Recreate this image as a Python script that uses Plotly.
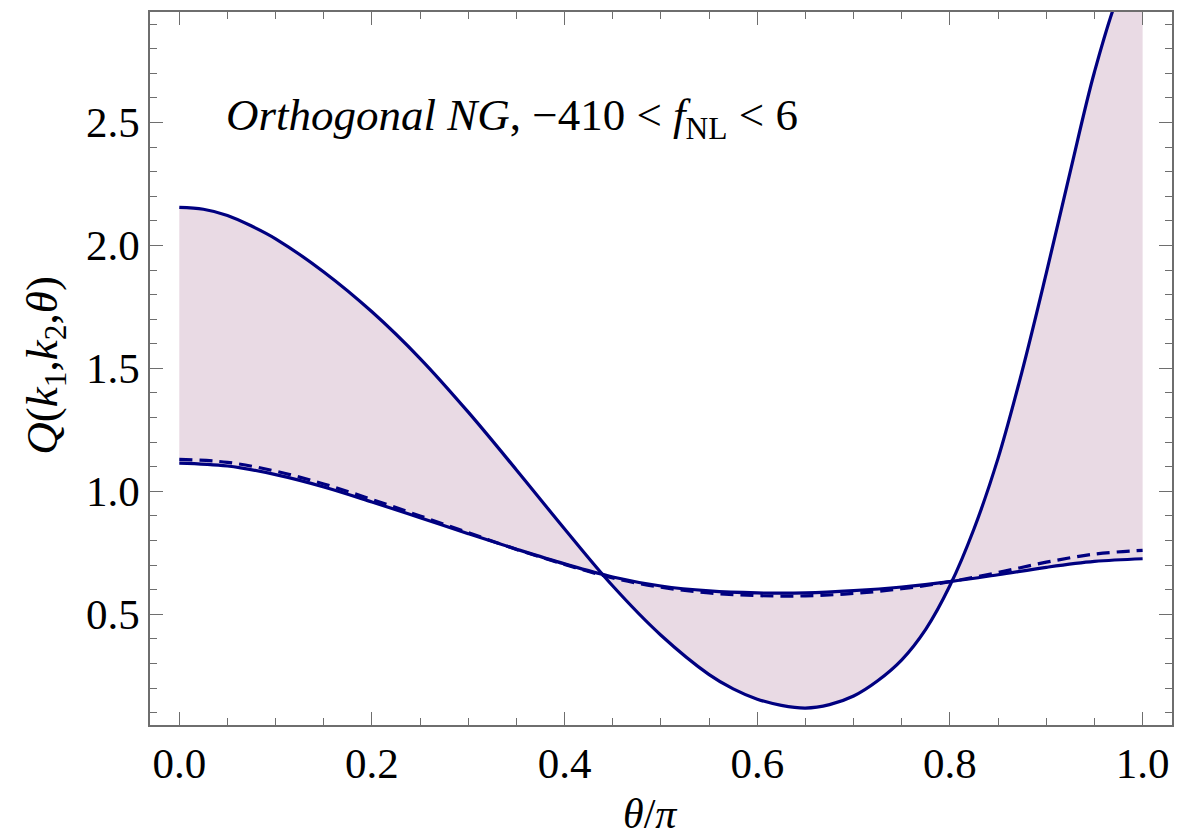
import plotly.graph_objects as go

# theta/pi sample points
theta = [0.00, 0.05, 0.10, 0.15, 0.20, 0.25, 0.30, 0.35, 0.40, 0.45, 0.50,
         0.55, 0.60, 0.65, 0.70, 0.75, 0.80, 0.85, 0.90, 0.95, 1.00]
theta_upper = [0.00, 0.025, 0.05, 0.075, 0.10, 0.15, 0.20, 0.25, 0.30, 0.35, 0.40, 0.45, 0.50,
               0.55, 0.575, 0.60, 0.625, 0.65, 0.675, 0.70, 0.725, 0.75, 0.775, 0.80,
               0.825, 0.85, 0.875, 0.90, 0.925, 0.95, 0.975, 1.00]

# upper boundary (f_NL = -410)
q_upper = [2.155, 2.147, 2.122, 2.079, 2.027, 1.892, 1.730, 1.540, 1.322, 1.087, 0.847, 0.615, 0.415,
           0.255, 0.197, 0.155, 0.130, 0.119, 0.133, 0.168, 0.230, 0.315, 0.440, 0.617,
           0.848, 1.135, 1.490, 1.887, 2.302, 2.705, 3.020, 3.220]
# lower boundary (f_NL = 6)
q_lower = [1.115, 1.103, 1.068, 1.018, 0.957, 0.893, 0.828, 0.765, 0.705, 0.652, 0.615,
           0.595, 0.587, 0.587, 0.596, 0.611, 0.633, 0.661, 0.691, 0.715, 0.726]
# dashed (f_NL = 0)
q_zero = [1.130, 1.118, 1.082, 1.030, 0.967, 0.900, 0.832, 0.764, 0.703, 0.648, 0.610,
          0.587, 0.576, 0.575, 0.585, 0.604, 0.633, 0.670, 0.712, 0.745, 0.760]

x_ticks = [0.0, 0.2, 0.4, 0.6, 0.8, 1.0]
y_ticks = [0.5, 1.0, 1.5, 2.0, 2.5]

NAVY = "#000080"
FILL = "rgb(233,218,228)"
FRAME = "#6e6e6e"
SERIF = "Liberation Serif"

fig = go.Figure()
fig.add_trace(go.Scatter(x=theta, y=q_lower, mode="lines", line=dict(color=NAVY, width=3.2, shape="spline"),
                         showlegend=False, hoverinfo="skip"))
fig.add_trace(go.Scatter(x=theta_upper, y=q_upper, mode="lines", line=dict(color=NAVY, width=3.2, shape="spline"),
                         fill="tonexty", fillcolor=FILL, showlegend=False, hoverinfo="skip"))
fig.add_trace(go.Scatter(x=theta, y=q_zero, mode="lines",
                         line=dict(color=NAVY, width=3.2, shape="spline", dash="13px,7px"),
                         showlegend=False, hoverinfo="skip"))

axis_common = dict(showline=True, linecolor=FRAME, linewidth=1.5, mirror="allticks",
                   ticks="inside", tickcolor=FRAME, tickwidth=1.2, showgrid=False, zeroline=False,
                   tickfont=dict(family=SERIF, size=43, color="black"))

fig.update_xaxes(range=[-0.0304, 1.0305], tickvals=x_ticks, ticktext=[f"{v:.1f}" for v in x_ticks],
                 ticklen=13,
                 minor=dict(dtick=0.05, tick0=0, ticks="inside", ticklen=7, tickcolor=FRAME, tickwidth=1.2),
                 **axis_common)
fig.update_yaxes(range=[0.05, 2.949], tickvals=y_ticks, ticktext=[f"{v:.1f}" for v in y_ticks],
                 ticklen=13,
                 minor=dict(dtick=0.1, tick0=0, ticks="inside", ticklen=7, tickcolor=FRAME, tickwidth=1.2),
                 **axis_common)

fig.add_annotation(xref="paper", yref="paper", x=0.072, y=0.851, xanchor="left", yanchor="middle",
                   text="<i>Orthogonal NG</i>, \u2212410 &lt; <i>f</i><sub>NL</sub> &lt; 6",
                   showarrow=False, font=dict(family=SERIF, size=45, color="black"))
fig.add_annotation(xref="paper", yref="paper", x=0.489, y=-0.1594, xanchor="center", yanchor="bottom",
                   text="<i>\u03b8</i>/<i>\u03c0</i>", showarrow=False,
                   font=dict(family=SERIF, size=42, color="black"))
fig.add_annotation(xref="paper", yref="paper", x=-0.103, y=0.505, xanchor="center", yanchor="middle",
                   text="<i>Q</i>(<i>k</i><sub>1</sub>,<i>k</i><sub>2</sub>,<i>\u03b8</i>)", textangle=-90,
                   showarrow=False, font=dict(family=SERIF, size=45, color="black"))

fig.update_layout(width=1194, height=839, margin=dict(l=150, r=22, t=10, b=114),
                  paper_bgcolor="white", plot_bgcolor="white")

fig.write_html("out.html")
